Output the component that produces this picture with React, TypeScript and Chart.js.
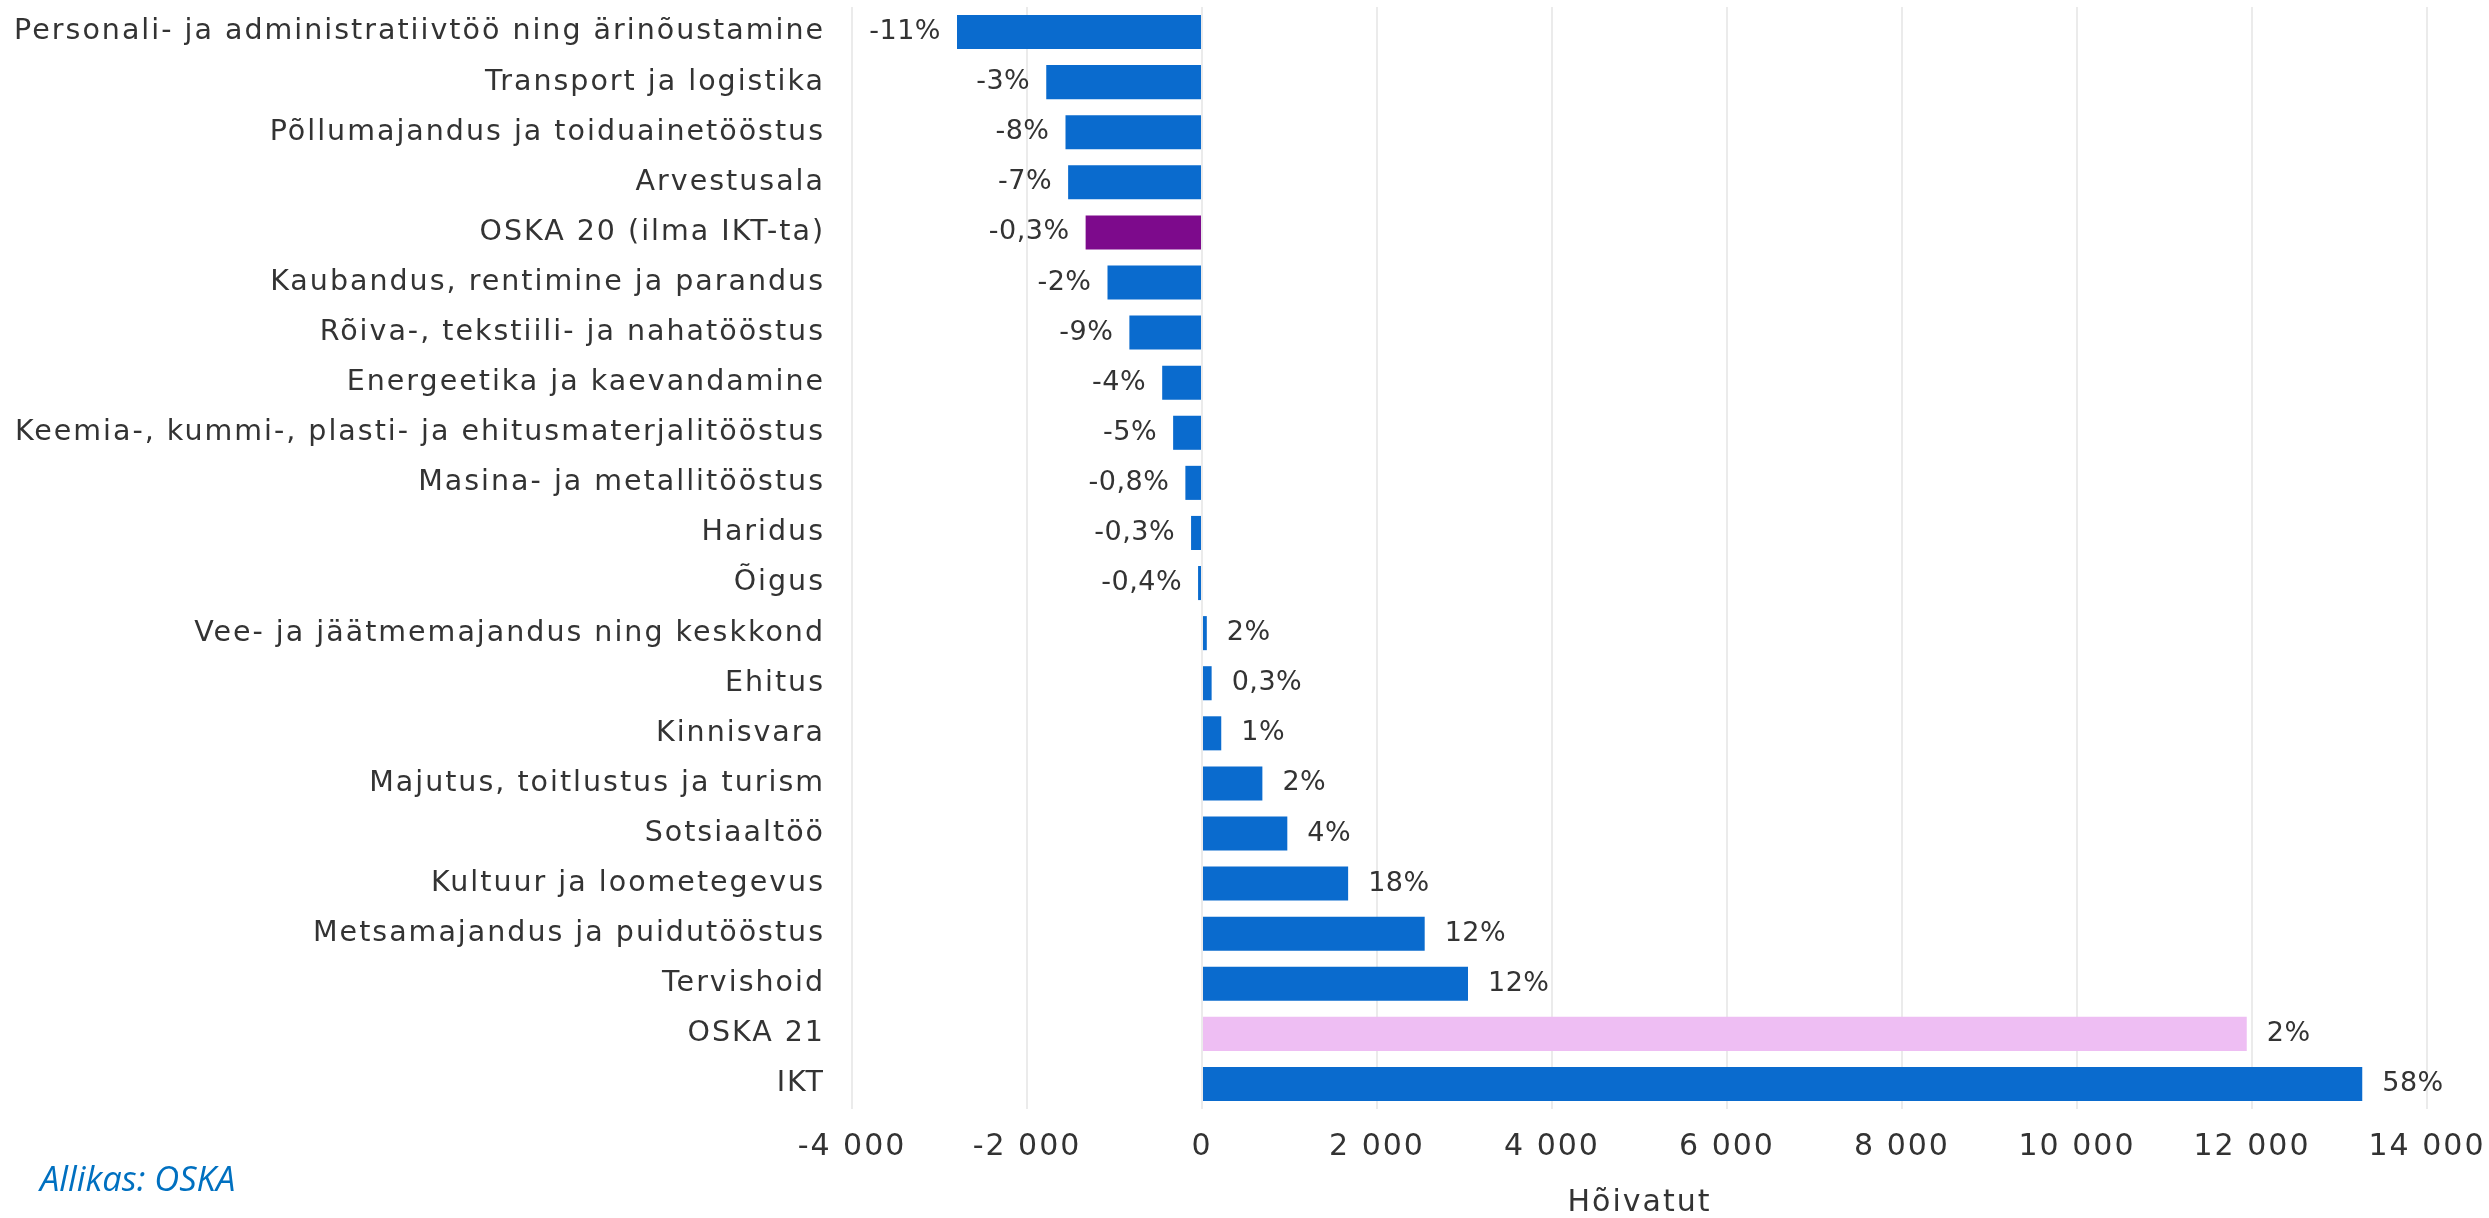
import React, { useEffect, useRef } from "react";
import { Chart, registerables } from "chart.js";

Chart.register(...registerables);

const categories: string[] = [
  "Personali- ja administratiivtöö ning ärinõustamine",
  "Transport ja logistika",
  "Põllumajandus ja toiduainetööstus",
  "Arvestusala",
  "OSKA 20 (ilma IKT-ta)",
  "Kaubandus, rentimine ja parandus",
  "Rõiva-, tekstiili- ja nahatööstus",
  "Energeetika ja kaevandamine",
  "Keemia-, kummi-, plasti- ja ehitusmaterjalitööstus",
  "Masina- ja metallitööstus",
  "Haridus",
  "Õigus",
  "Vee- ja jäätmemajandus ning keskkond",
  "Ehitus",
  "Kinnisvara",
  "Majutus, toitlustus ja turism",
  "Sotsiaaltöö",
  "Kultuur ja loometegevus",
  "Metsamajandus ja puidutööstus",
  "Tervishoid",
  "OSKA 21",
  "IKT",
];

const employedChange: number[] = [
  -2800, -1780, -1560, -1530, -1330, -1080, -830, -455, -330, -190, -125, -45,
  55, 110, 220, 690, 975, 1670, 2545, 3040, 11940, 13260,
];

const percentLabels: string[] = [
  "-11%", "-3%", "-8%", "-7%", "-0,3%", "-2%", "-9%", "-4%", "-5%", "-0,8%", "-0,3%", "-0,4%",
  "2%", "0,3%", "1%", "2%", "4%", "18%", "12%", "12%", "2%", "58%",
];

const axisTitle = "Hõivatut";
const sourceNote = "Allikas: OSKA";

const BLUE = "#0A6BCE";
const PURPLE = "#7D0A8C";
const PINK = "#EEBEF3";
const TEXT = "#333333";
const FONT = "'DejaVu Sans', 'Open Sans', sans-serif";
const SPACING = "2px";

function barColor(cat: string): string {
  if (cat === "OSKA 20 (ilma IKT-ta)") return PURPLE;
  if (cat === "OSKA 21") return PINK;
  return BLUE;
}

function formatThousands(v: number): string {
  const s = String(Math.abs(Math.round(v))).replace(/\B(?=(\d{3})+(?!\d))/g, " ");
  return (v < 0 ? "-" : "") + s;
}

const spacingPlugin = {
  id: "letterSpacing",
  beforeUpdate(chart: any) {
    (chart.ctx as any).letterSpacing = SPACING;
  },
  beforeDraw(chart: any) {
    (chart.ctx as any).letterSpacing = SPACING;
  },
};

const valueLabelPlugin = {
  id: "valueLabels",
  afterDatasetsDraw(chart: any) {
    const ctx = chart.ctx;
    const meta = chart.getDatasetMeta(0);
    ctx.save();
    (ctx as any).letterSpacing = "0.5px";
    ctx.font = `27px ${FONT}`;
    ctx.fillStyle = TEXT;
    ctx.textBaseline = "middle";
    meta.data.forEach((el: any, i: number) => {
      const v = employedChange[i];
      const label = percentLabels[i];
      if (v < 0) {
        ctx.textAlign = "right";
        ctx.fillText(label, el.x - 16, el.y);
      } else {
        ctx.textAlign = "left";
        ctx.fillText(label, el.x + 20, el.y);
      }
    });
    ctx.restore();
  },
};

export default function App() {
  const canvasRef = useRef<HTMLCanvasElement | null>(null);

  useEffect(() => {
    if (!canvasRef.current) return;
    const chart = new Chart(canvasRef.current, {
      type: "bar",
      data: {
        labels: categories,
        datasets: [
          {
            data: employedChange,
            backgroundColor: categories.map(barColor),
            borderWidth: 0,
            barPercentage: 0.68,
            categoryPercentage: 1,
          },
        ],
      },
      options: {
        indexAxis: "y",
        animation: false,
        responsive: true,
        maintainAspectRatio: false,
        layout: { padding: { top: 7, right: 62, left: 0, bottom: 0 } },
        plugins: {
          legend: { display: false },
          tooltip: { enabled: false },
        },
        scales: {
          x: {
            min: -4000,
            max: 14000,
            ticks: {
              stepSize: 2000,
              padding: 20,
              color: TEXT,
              font: { family: FONT, size: 30 },
              callback: (v: any) => formatThousands(Number(v)),
            },
            grid: { color: "#ebebeb", lineWidth: 2, drawTicks: false },
            border: { display: false },
            title: {
              display: true,
              text: axisTitle,
              color: TEXT,
              font: { family: FONT, size: 30 },
              padding: { top: 0, bottom: -3 },
            },
            afterFit: (s: any) => {
              s.height = 109;
              s.paddingLeft = 0;
              s.paddingRight = 0;
            },
          },
          y: {
            ticks: {
              padding: 27,
              color: TEXT,
              font: { family: FONT, size: 28.5 },
              autoSkip: false,
            },
            grid: { display: false, drawTicks: false },
            border: { display: false },
            afterFit: (s: any) => {
              s.width = 852;
              s.paddingTop = 0;
              s.paddingBottom = 0;
            },
          },
        },
      },
      plugins: [spacingPlugin, valueLabelPlugin],
    });
    return () => chart.destroy();
  }, []);

  return (
    <div style={{ position: "fixed", left: 0, top: 0, width: 2489, height: 1218, background: "#fff" }}>
      <canvas ref={canvasRef} />
      <div
        style={{
          position: "absolute",
          left: 40,
          top: 1155,
          fontFamily: "'Open Sans', sans-serif",
          fontStyle: "italic",
          fontSize: 34.5,
          lineHeight: "45px",
          color: "#0070C0",
          whiteSpace: "nowrap",
        }}
      >
        {sourceNote}
      </div>
    </div>
  );
}
